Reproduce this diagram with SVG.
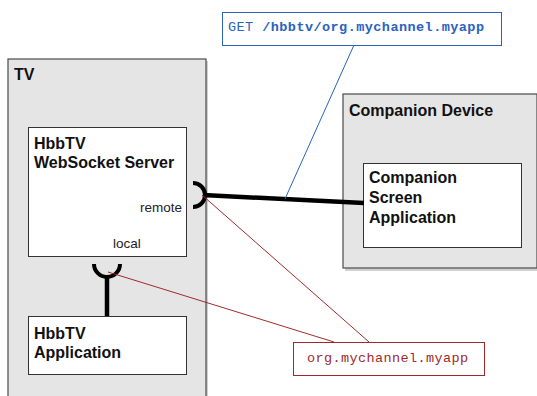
<svg xmlns="http://www.w3.org/2000/svg" width="537" height="396" viewBox="0 0 537 396">
<defs>
<style>
.outer{fill:#e5e5e5;stroke:#4a4a4a;stroke-width:1.2}
.inner{fill:#fff;stroke:#333;stroke-width:1}
.shadow{fill:#000;opacity:0.18}
.title{font-family:"Liberation Sans",Arial,sans-serif;font-weight:bold;font-size:16px;fill:#111}
.port{font-family:"Liberation Sans",Arial,sans-serif;font-size:13.5px;fill:#222}
.mono{font-family:"Liberation Mono","DejaVu Sans Mono",monospace;font-size:13.5px}
.thick{fill:none;stroke:#000;stroke-width:4.5}
.sock{fill:none;stroke:#000;stroke-width:4}
.blue{fill:none;stroke:#2a62c0;stroke-width:1}
.red{fill:none;stroke:#a02a2a;stroke-width:1}
</style>
</defs>
<rect width="537" height="396" fill="#fff"/>
<g id="tv">
<rect class="shadow" x="10" y="61" width="198" height="340"/>
<rect class="outer" x="8" y="59" width="198" height="340"/>
<text class="title" x="14" y="80">TV</text>
</g>
<g id="companion-device">
<rect class="shadow" x="345" y="97" width="194" height="174"/>
<rect class="outer" x="343" y="94" width="194" height="174"/>
<text class="title" x="349" y="116">Companion Device</text>
</g>
<g id="websocket-server">
<rect class="inner" x="28.5" y="127.5" width="158" height="129"/>
<text class="title" x="34" y="149">HbbTV</text>
<text class="title" x="34" y="168">WebSocket Server</text>
<text class="port" x="182" y="212" text-anchor="end">remote</text>
<text class="port" x="113" y="248">local</text>
</g>
<g id="hbbtv-application">
<rect class="inner" x="28.5" y="316.5" width="158" height="58"/>
<text class="title" x="34" y="339">HbbTV</text>
<text class="title" x="34" y="358">Application</text>
</g>
<g id="companion-screen-application">
<rect class="inner" x="363.5" y="163.5" width="158" height="84"/>
<text class="title" x="369" y="183">Companion</text>
<text class="title" x="369" y="203">Screen</text>
<text class="title" x="369" y="223">Application</text>
</g>
<g id="get-label">
<rect x="222.5" y="12.5" width="279" height="33" fill="#fff" stroke="#2a62c0" stroke-width="1"/>
<text class="mono" x="228" y="31" fill="#2a62c0" textLength="256" lengthAdjust="spacing">GET <tspan font-weight="bold">/hbbtv/org.mychannel.myapp</tspan></text>
</g>
<g id="app-id-label">
<rect x="293.5" y="342.5" width="191" height="33" fill="#fff" stroke="#a02a2a" stroke-width="1"/>
<text class="mono" x="307" y="362" fill="#a02a2a" textLength="161" lengthAdjust="spacing">org.mychannel.myapp</text>
</g>
<g id="connectors">
<line class="thick" x1="203" y1="195" x2="364" y2="203"/>
<path class="sock" d="M193,183 A12,12 0 0 1 193,207"/>
<path class="sock" d="M94,264 A13,13 0 0 0 120,264"/>
<line class="thick" x1="107" y1="276" x2="107" y2="316"/>
<line class="blue" x1="354" y1="45" x2="285" y2="199"/>
<line class="red" x1="202" y1="195" x2="369" y2="342"/>
<line class="red" x1="108" y1="272" x2="334" y2="342"/>
</g>
</svg>
